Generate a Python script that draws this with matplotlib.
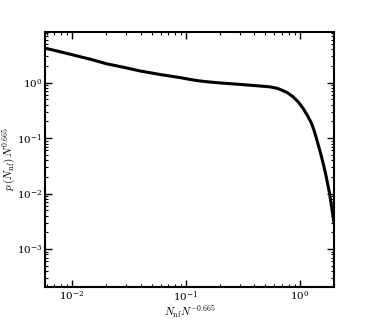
import matplotlib
matplotlib.use("Agg")
import matplotlib.pyplot as plt

plt.rcParams["mathtext.fontset"] = "cm"
plt.rcParams["font.family"] = "serif"
plt.rcParams["font.serif"] = ["DejaVu Serif"]

# Scaled distribution (data collapse curve)
x_scaled = [0.0058, 0.0075, 0.01, 0.015, 0.02, 0.03, 0.04, 0.06, 0.09, 0.11,
            0.13, 0.16, 0.2, 0.3, 0.45, 0.55, 0.62, 0.67, 0.78, 0.87, 0.97,
            1.07, 1.17, 1.27, 1.34, 1.40, 1.47, 1.55, 1.63, 1.71, 1.83,
            1.94, 2.0]
p_scaled = [4.2, 3.7, 3.2, 2.6, 2.2, 1.85, 1.62, 1.4, 1.23, 1.14,
            1.08, 1.03, 0.99, 0.93, 0.87, 0.84, 0.8, 0.76, 0.66, 0.56, 0.45,
            0.345, 0.255, 0.185, 0.135, 0.10, 0.07, 0.047, 0.031, 0.020, 0.010,
            0.0045, 0.003]

fig = plt.figure(figsize=(3.72, 3.2), dpi=100)
ax = fig.add_axes([45 / 372, 1 - 287 / 320, 289 / 372, 255 / 320])

ax.plot(x_scaled, p_scaled, color="black", linewidth=2.2)

ax.set_xscale("log")
ax.set_yscale("log")
ax.set_xlim(0.0058, 2.0)
ax.set_ylim(2.07e-4, 8.2)

ax.set_xlabel(r"$N_{\rm nf}N^{-0.665}$", fontsize=8, labelpad=-1)
ax.set_ylabel(r"$p\,(N_{\rm nf})\,N^{0.665}$", fontsize=8, labelpad=-1)

ax.tick_params(which="both", direction="in", top=True, right=True,
               labelsize=7.5, pad=2)
ax.tick_params(which="major", length=5, width=1)
ax.tick_params(which="minor", length=2.5, width=0.8)
for s in ax.spines.values():
    s.set_linewidth(1.5)

fig.savefig("out.png", dpi=100)
